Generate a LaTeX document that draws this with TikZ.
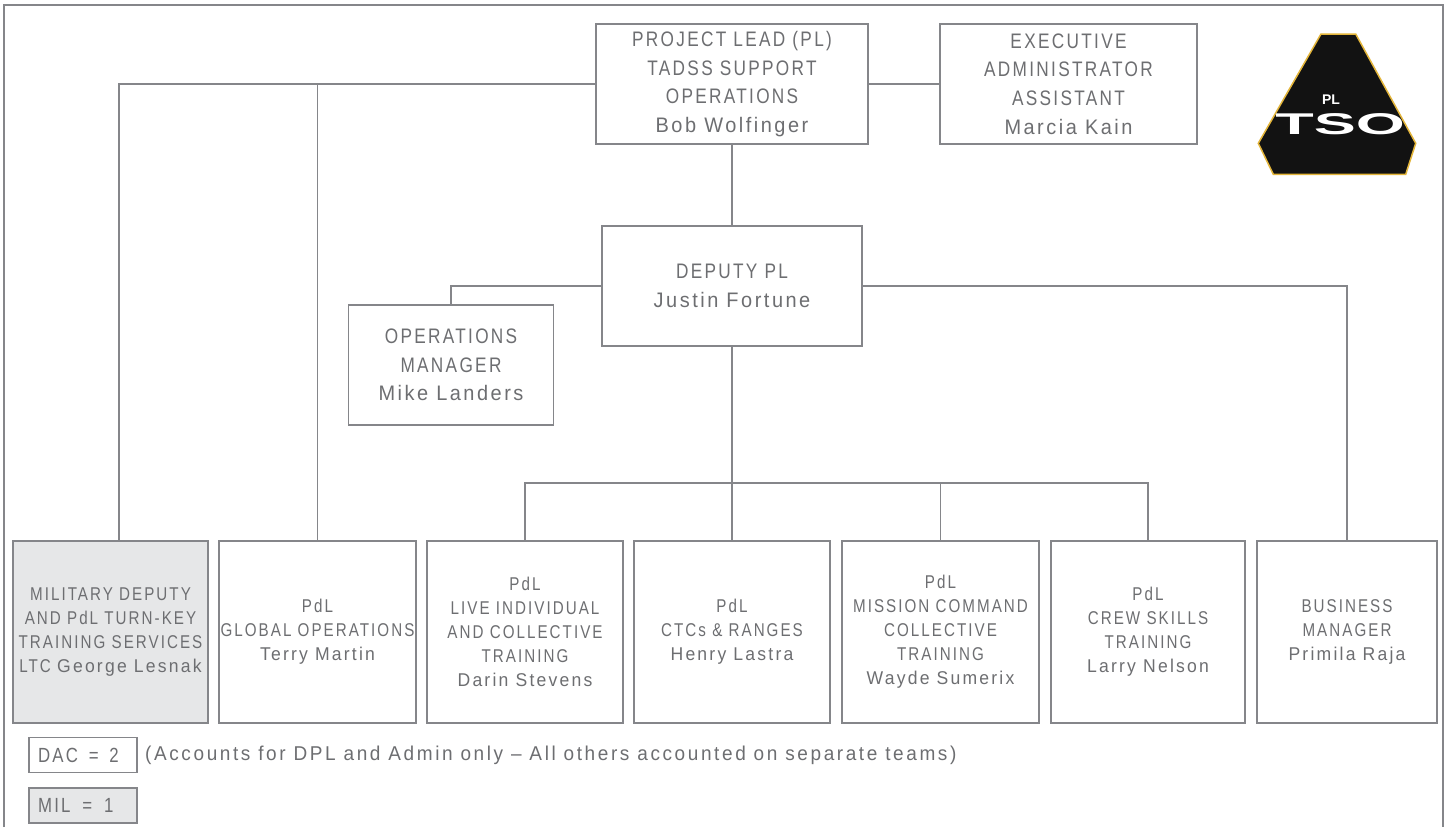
\documentclass[tikz,border=0pt]{standalone}
\usepackage{fontspec}
\usepackage{graphicx}
\newfontfamily\chartfont[FakeStretch=0.82,LetterSpace=11]{Liberation Sans}
\newfontfamily\namefont[FakeStretch=0.95,LetterSpace=12]{Liberation Sans}
\newfontfamily\notefont[FakeStretch=0.95,LetterSpace=13]{Liberation Sans}
\newfontfamily\logofont{Liberation Sans}
\definecolor{linegray}{HTML}{85868A}
\definecolor{txtgray}{HTML}{6D6E71}
\definecolor{milfill}{HTML}{E6E7E8}
\definecolor{logogold}{HTML}{E3B53A}
\definecolor{logoblack}{HTML}{121212}
\begin{document}
\begin{tikzpicture}[x=1pt,y=-1pt,
  conn/.style={draw=linegray,line width=1.4pt},
  bx/.style={draw=linegray,line width=1.4pt,text=txtgray,align=center,inner sep=0pt},
  topbox/.style={bx,minimum height=120pt,font=\chartfont\fontsize{21}{28.7}\selectfont},
  lowbox/.style={bx,minimum height=182pt,minimum width=196pt,font=\chartfont\fontsize{18.5}{24}\selectfont},
  keybox/.style={bx,minimum height=35pt,inner xsep=9pt,text width=90pt,align=left,font=\chartfont\fontsize{20.5}{24}\selectfont},
  notetext/.style={text=txtgray,inner sep=0pt,font=\notefont\fontsize{20}{24}\selectfont},
]
\useasboundingbox (0,0) rectangle (1447,827);
\fill[white] (0,0) rectangle (1447,827);
\draw[conn] (4,827) -- (4,5) -- (1443,5) -- (1443,827);

% top level
\node[topbox,minimum width=272pt] (pl) at (732,84) {PROJECT LEAD (PL)\\TADSS SUPPORT\\OPERATIONS\\\namefont Bob Wolfinger};
\node[topbox,minimum width=257pt] (ea) at (1068.5,84) {EXECUTIVE\\ADMINISTRATOR\\ASSISTANT\\\namefont Marcia Kain};
\node[topbox,minimum width=260pt] (dep) at (732,286) {DEPUTY PL\\\namefont Justin Fortune};
\node[topbox,minimum width=205pt] (ops) at (451,365) {OPERATIONS\\MANAGER\\\namefont Mike Landers};

% bottom row
\node[lowbox,fill=milfill,minimum width=195pt] (mil) at (110.5,632) {MILITARY DEPUTY\\AND PdL TURN-KEY\\TRAINING SERVICES\\LTC \namefont George Lesnak};
\node[lowbox,minimum width=197pt] (glob) at (317.5,632) {PdL\\GLOBAL OPERATIONS\\\namefont Terry Martin};
\node[lowbox] (live) at (525,632) {PdL\\LIVE INDIVIDUAL\\AND COLLECTIVE\\TRAINING\\\namefont Darin Stevens};
\node[lowbox] (ctc) at (732,632) {PdL\\CTCs \& RANGES\\\namefont Henry Lastra};
\node[lowbox,minimum width=197pt] (mis) at (940.5,632) {PdL\\MISSION COMMAND\\COLLECTIVE\\TRAINING\\\namefont Wayde Sumerix};
\node[lowbox,minimum width=194pt] (crew) at (1148,632) {PdL\\CREW SKILLS\\TRAINING\\\namefont Larry Nelson};
\node[lowbox,minimum width=180pt] (bus) at (1347,632) {BUSINESS\\MANAGER\\\namefont Primila Raja};

% connectors
\draw[conn] (pl) -- (ea);
\draw[conn] (pl.west) -| ([xshift=8.5pt]mil.north);
\draw[conn] (pl.west -| glob.north) -- (glob.north);
\draw[conn] (pl) -- (dep);
\draw[conn] (dep.west) -| (ops.north);
\draw[conn] (dep.east) -| (bus.north);
\coordinate (bar) at (732,483);
\draw[conn] (dep) -- (ctc);
\draw[conn] (live.north) |- (bar) -| (crew.north);
\draw[conn] (mis.north) -- (mis.north |- bar);

% legend
\node[keybox] (dac) at (83,755) {DAC \hspace{4pt}= \hspace{4pt}2};
\node[keybox,fill=milfill] (milkey) at (83,805.5) {MIL \hspace{5pt}= \hspace{5pt}1};
\node[notetext,anchor=west] (note) at (145,755) {(Accounts for DPL and Admin only – All others accounted on separate teams)};

% logo
\filldraw[fill=logoblack,draw=logogold,line width=1.5pt] (1321,34) -- (1355.7,34) -- (1415.7,143.3) -- (1405.7,174.3) -- (1273.3,174.3) -- (1258.3,143.3) -- cycle;
\node[text=white,inner sep=0pt] (tso) at (1340,124) {\scalebox{2.1}[1]{\logofont\bfseries\fontsize{30}{30}\selectfont TSO}};
\node[text=white,inner sep=0pt] (plmark) at (1331,100) {\logofont\bfseries\fontsize{14}{14}\selectfont PL};
\end{tikzpicture}
\end{document}
